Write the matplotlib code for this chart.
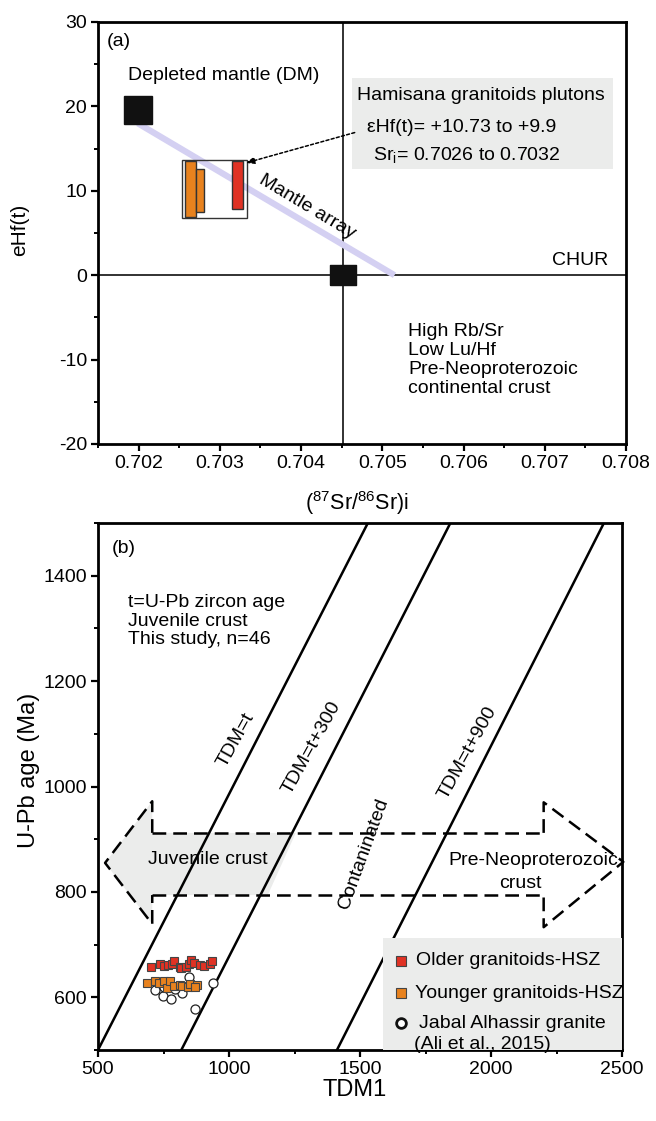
import numpy as np
import matplotlib
matplotlib.use("Agg")
import matplotlib.pyplot as plt
from matplotlib.patches import Rectangle, Polygon
from matplotlib.ticker import MultipleLocator

plt.rcParams['font.family'] = ['Liberation Sans', 'DejaVu Sans']
plt.rcParams['mathtext.fontset'] = 'custom'
plt.rcParams['mathtext.rm'] = 'Liberation Sans'
plt.rcParams['mathtext.it'] = 'Liberation Sans:italic'
plt.rcParams['axes.unicode_minus'] = False

# ---- panel (a) data ----
dm_x, dm_y = [0.70199], [19.6]
chur_x, chur_y = [0.70451], [0.0]
mantle_x = [0.70199, 0.70515]
mantle_y = [18.0, 0.0]
ref_vline = 0.70451
# Hamisana range bars: (x0, x1, y0, y1)
bar_x0 = [0.70257, 0.70271, 0.70315]
bar_x1 = [0.70271, 0.70280, 0.70329]
bar_y0 = [6.9, 7.5, 7.8]
bar_y1 = [13.5, 12.6, 13.5]
bar_colors = ['#e8821e', '#e8821e', '#e03224']
frame_x = [0.70253, 0.70334]
frame_y = [6.75, 13.7]
arrow_from = (0.70466, 16.9)
arrow_to = (0.70332, 13.3)

# ---- panel (b) data ----
older_tdm = [702, 738, 750, 769, 782, 791, 814, 818, 837, 846, 855, 865, 891, 906, 929, 936]
older_age = [658, 663, 659, 661, 664, 669, 658, 655, 658, 664, 671, 666, 661, 659, 664, 668]
younger_tdm = [687, 718, 731, 750, 763, 776, 789, 814, 821, 842, 852, 878, 872]
younger_age = [628, 630, 628, 630, 617, 630, 621, 623, 621, 620, 625, 623, 620]
jabal_tdm = [718, 748, 778, 821, 846, 872, 939, 795, 750]
jabal_age = [614, 602, 596, 608, 638, 578, 627, 615, 620]
# reference lines TDM=t, t+300, t+900 (endpoints)
ref_x0 = [500, 818, 1412]
ref_x1 = [1530, 1845, 2431]
ref_y0 = [500, 500, 500]
ref_y1 = [1500, 1500, 1500]
# juvenile / pre-Neoproterozoic arrows
juv_fill_x = [1255, 707, 707, 527, 707, 707, 1148]
juv_fill_y = [912, 912, 972, 855, 739, 794, 794]
shaft_x = [707, 2201]
shaft_top, shaft_bot = 912, 794
lhead_x = [707, 707, 527, 707, 707]
lhead_y = [912, 972, 855, 739, 794]
rhead_x = [2201, 2201, 2505, 2201, 2201]
rhead_y = [912, 970, 857, 733, 794]

W, H = 656, 1121
fig = plt.figure(figsize=(W / 100, H / 100), dpi=100)

FS = 14
dash = (0, (5.5, 2.8))

def style_axes(ax):
    for s in ax.spines.values():
        s.set_linewidth(2)
    ax.tick_params(which='major', direction='out', length=5, width=1.6, labelsize=FS, pad=3)
    ax.tick_params(which='minor', direction='out', length=3, width=1.4)

# ================= panel (a) =================
ax1 = fig.add_axes([98 / W, 1 - 444 / H, 528 / W, 422 / H])
style_axes(ax1)
ax1.set_xlim(0.7015, 0.708)
ax1.set_ylim(-20, 30)
ax1.xaxis.set_major_locator(MultipleLocator(0.001))
ax1.xaxis.set_minor_locator(MultipleLocator(0.0005))
ax1.yaxis.set_major_locator(MultipleLocator(10))
ax1.yaxis.set_minor_locator(MultipleLocator(5))
ax1.xaxis.set_major_formatter(plt.FuncFormatter(lambda v, p: f"{v:.3f}"))

ax1.axhline(0, color='#222222', lw=1.3, zorder=1)
ax1.axvline(ref_vline, color='#222222', lw=1.3, zorder=1)
ax1.plot(mantle_x, mantle_y, color='#d4d0f2', lw=4.5, solid_capstyle='butt', zorder=2)

ax1.add_patch(Rectangle((frame_x[0], frame_y[0]), frame_x[1] - frame_x[0], frame_y[1] - frame_y[0],
                        fill=False, ec='#333333', lw=1.0, zorder=3))
ax1.bar(bar_x0, np.subtract(bar_y1, bar_y0), width=np.subtract(bar_x1, bar_x0), bottom=bar_y0,
        align='edge', color=bar_colors, edgecolor='#333333', linewidth=1.0, zorder=4)
ax1.plot(dm_x, dm_y, 's', color='#111111', ms=20, zorder=5)
chur_marker = [(-1.3, -1), (1.3, -1), (1.3, 1), (-1.3, 1), (-1.3, -1)]
ax1.plot(chur_x, chur_y, marker=chur_marker, color='#111111', ms=19, ls='none', zorder=5)

ax1.add_patch(Rectangle((0.481, 0.652), 0.494, 0.215, transform=ax1.transAxes,
                        color='#ebeceb', lw=0, zorder=2))
ax1.annotate('', xy=arrow_to, xytext=arrow_from,
             arrowprops=dict(arrowstyle='-|>,head_length=0.5,head_width=0.2', color='black',
                             lw=1.1, ls=(0, (2, 1.5)), shrinkA=0, shrinkB=0), zorder=6)

ax1.text(0.017, 0.953, '(a)', transform=ax1.transAxes, fontsize=FS, va='center')
ax1.text(0.057, 0.874, 'Depleted mantle (DM)', transform=ax1.transAxes, fontsize=FS, va='center')
ax1.text(0.490, 0.825, 'Hamisana granitoids plutons', transform=ax1.transAxes, fontsize=FS,
         va='center', zorder=7)
ax1.text(0.509, 0.749, 'εHf(t)= +10.73 to +9.9', transform=ax1.transAxes, fontsize=FS,
         va='center', zorder=7)
ax1.text(0.521, 0.685, r'Sr$_{\mathregular{i}}$= 0.7026 to 0.7032', transform=ax1.transAxes,
         fontsize=FS, va='center', zorder=7)
ax1.text(0.966, 0.436, 'CHUR', transform=ax1.transAxes, fontsize=FS, va='center', ha='right')
ax1.text(0.587, 0.199, 'High Rb/Sr\nLow Lu/Hf\nPre-Neoproterozoic\ncontinental crust',
         transform=ax1.transAxes, fontsize=FS, va='center', linespacing=1.15)
ax1.text(0.396, 0.562, 'Mantle array', transform=ax1.transAxes, fontsize=FS, rotation=-31,
         ha='center', va='center', rotation_mode='anchor')

ax1.set_xlabel(r'($^{\mathregular{87}}$Sr/$^{\mathregular{86}}$Sr)i', fontsize=15.5)
ax1.xaxis.set_label_coords(0.49, -0.108)
ax1.set_ylabel('eHf(t)', fontsize=15)
ax1.yaxis.set_label_coords(-0.13, 0.507)

# ================= panel (b) =================
ax2 = fig.add_axes([98 / W, 71 / H, 524 / W, 527 / H])
style_axes(ax2)
ax2.set_xlim(500, 2500)
ax2.set_ylim(500, 1500)
ax2.xaxis.set_major_locator(MultipleLocator(500))
ax2.xaxis.set_minor_locator(MultipleLocator(250))
ax2.yaxis.set_major_locator(MultipleLocator(200))
ax2.yaxis.set_minor_locator(MultipleLocator(100))

for x0, x1, y0, y1 in zip(ref_x0, ref_x1, ref_y0, ref_y1):
    ax2.plot([x0, x1], [y0, y1], color='black', lw=1.8, zorder=2)

ax2.add_patch(Polygon(np.column_stack([juv_fill_x, juv_fill_y]), closed=True,
                      color='#ebeceb', lw=0, zorder=1))
ax2.plot(lhead_x, lhead_y, color='black', lw=1.8, ls=dash, zorder=3)
ax2.plot(rhead_x, rhead_y, color='black', lw=1.8, ls=dash, zorder=3, clip_on=False)
ax2.plot(shaft_x, [shaft_top, shaft_top], color='black', lw=1.8, ls=dash, zorder=3)
ax2.plot(shaft_x, [shaft_bot, shaft_bot], color='black', lw=1.8, ls=dash, zorder=3)

ax2.plot(jabal_tdm, jabal_age, 'o', mfc='white', mec='#222222', mew=0.9, ms=6.5, ls='none', zorder=4)
ax2.plot(younger_tdm, younger_age, 's', mfc='#e8821e', mec='#444444', mew=0.8, ms=6, ls='none', zorder=5)
ax2.plot(older_tdm, older_age, 's', mfc='#e03224', mec='#444444', mew=0.8, ms=6, ls='none', zorder=6)

# legend box
ax2.add_patch(Rectangle((0.544, 0.0), 0.456, 0.2125, transform=ax2.transAxes,
                        color='#ebeceb', lw=0, zorder=6))
ax2.plot([0.578], [0.169], 's', mfc='#e03224', mec='#444444', mew=0.8, ms=6.5,
         transform=ax2.transAxes, zorder=7)
ax2.plot([0.578], [0.108], 's', mfc='#e8821e', mec='#444444', mew=0.8, ms=6.5,
         transform=ax2.transAxes, zorder=7)
ax2.plot([0.578], [0.051], 'o', mfc='white', mec='#111111', mew=2, ms=7,
         transform=ax2.transAxes, zorder=7)
ax2.text(0.607, 0.169, 'Older granitoids-HSZ', transform=ax2.transAxes, fontsize=FS, va='center', zorder=7)
ax2.text(0.605, 0.108, 'Younger granitoids-HSZ', transform=ax2.transAxes, fontsize=FS, va='center', zorder=7)
ax2.text(0.612, 0.051, 'Jabal Alhassir granite', transform=ax2.transAxes, fontsize=FS, va='center', zorder=7)
ax2.text(0.733, 0.011, '(Ali et al., 2015)', transform=ax2.transAxes, fontsize=FS, va='center',
         ha='center', zorder=7)

ax2.text(0.026, 0.951, '(b)', transform=ax2.transAxes, fontsize=FS, va='center')
ax2.text(0.057, 0.814, 't=U-Pb zircon age\nJuvenile crust\nThis study, n=46',
         transform=ax2.transAxes, fontsize=FS, va='center', linespacing=1.15)
ax2.text(0.263, 0.588, 'TDM=t', transform=ax2.transAxes, fontsize=FS, rotation=61,
         ha='center', va='center', rotation_mode='anchor')
ax2.text(0.408, 0.573, 'TDM=t+300', transform=ax2.transAxes, fontsize=FS, rotation=61,
         ha='center', va='center', rotation_mode='anchor')
ax2.text(0.706, 0.564, 'TDM=t+900', transform=ax2.transAxes, fontsize=FS, rotation=61,
         ha='center', va='center', rotation_mode='anchor')
ax2.text(0.508, 0.372, 'Contaninated', transform=ax2.transAxes, fontsize=FS, rotation=70,
         ha='center', va='center', rotation_mode='anchor')
ax2.text(0.210, 0.362, 'Juvenile crust', transform=ax2.transAxes, fontsize=FS,
         ha='center', va='center', zorder=4)
ax2.text(0.830, 0.359, 'Pre-Neoproterozoic', transform=ax2.transAxes, fontsize=FS,
         ha='center', va='center')
ax2.text(0.807, 0.315, 'crust', transform=ax2.transAxes, fontsize=FS, ha='center', va='center')

ax2.set_xlabel('TDM1', fontsize=17)
ax2.xaxis.set_label_coords(0.49, -0.055)
ax2.set_ylabel('U-Pb age (Ma)', fontsize=17)
ax2.yaxis.set_label_coords(-0.11, 0.53)

fig.savefig('out.png', dpi=100)
